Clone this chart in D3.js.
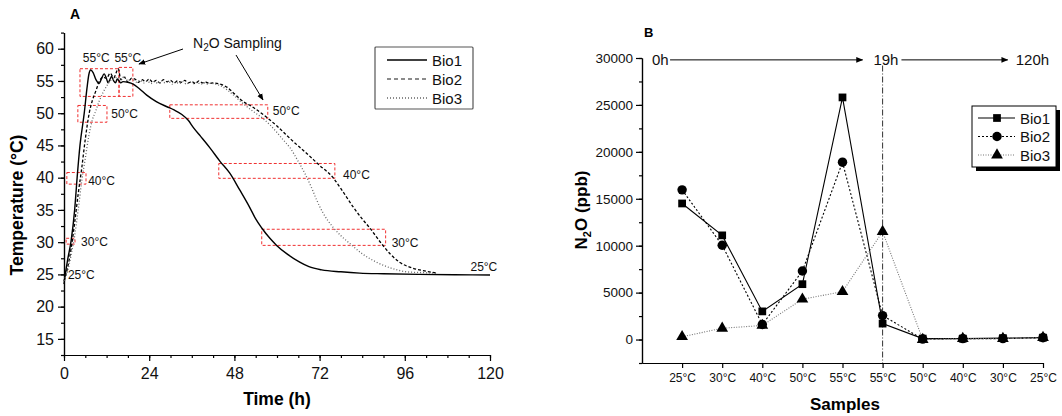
<!DOCTYPE html>
<html>
<head>
<meta charset="utf-8">
<script src="https://cdn.jsdelivr.net/npm/d3@7"></script>
<style>
  body { margin: 0; background: #fff; }
  svg text { font-family: "Liberation Sans", Arial, sans-serif; }
</style>
</head>
<body>
<svg id="svgcanvas" width="1062" height="416"></svg>
<script>
// ---------------------------------------------------------------------------
//  panel A data: temperature (°C) against time (h)
// ---------------------------------------------------------------------------
var bio1Time = [0, 0.5, 1, 2, 3, 3.7, 4.5, 5.7, 6.5, 7, 7.5, 8.2, 9, 9.9, 10.6, 11.3, 12, 12.4,
  13, 13.4, 14, 14.5, 15, 15.5, 16, 16.6, 18, 19.5, 21, 23.3, 26, 29, 31, 33.2, 35, 36.4,
  38.5, 41, 44, 46.7, 49.5, 52.3, 54, 55.7, 58, 59.9, 63, 66.4, 69, 72.6, 78, 83.3, 90,
  100, 110, 120];
var bio1Temp = [23.5, 25.5, 27.2, 30.2, 35, 40, 45, 50, 54, 56, 56.7, 56.3, 55.2, 54.6, 55.4,
  56.1, 55.3, 54.7, 55.3, 55.7, 55.0, 54.7, 55.3, 55.0, 54.7, 54.9, 54.8, 54.5, 53.9, 52.8,
  51.8, 51.0, 50.5, 49.8, 48.9, 47.8, 46.4, 44.7, 42.5, 40.7, 38.1, 35.4, 33.6, 32.2, 30.6,
  29.5, 28.1, 26.9, 26.2, 25.7, 25.4, 25.2, 25.1, 25.0, 24.95, 24.9];

var bio2Time = [0, 1, 2, 3, 4, 5, 6, 7.1, 8, 9, 10, 11, 12, 13, 14, 15.3, 16, 17, 18, 19,
  20, 21, 22, 23, 24, 25, 26, 27, 28, 29, 30, 31, 32, 33, 34, 35, 36, 37, 38, 39, 40, 41, 42,
  44, 46, 48, 50, 53, 57, 60, 64, 68.3, 72, 75.8, 78, 81.4, 84, 86, 89.4, 92, 94.5, 98, 102, 105];
var bio2Temp = [24, 26, 29, 33, 37.5, 41.5, 46, 50, 52, 53.5, 55, 55.6, 55.4, 56.2, 55.5,
  56.9, 55.2, 55.6, 54.8, 55.4, 55.3, 54.8, 55.2, 54.9, 55.3, 54.8, 55.1, 54.7, 55.2, 54.9,
  55.1, 54.7, 55.0, 54.8, 55.1, 54.7, 54.9, 54.6, 55.0, 54.7, 54.8, 54.6, 54.7,
  54.5, 54.0, 53.0, 52.0, 51.0, 49.4, 48.0, 45.9, 43.8, 41.9, 40.0, 38.3, 35.5, 33.6, 32.3,
  29.8, 28.1, 26.9, 26.0, 25.5, 25.2];

var bio3Time = [0, 1, 2, 3, 4, 5, 6, 7, 8, 8.7, 10, 11, 12, 13, 14, 15, 16, 17, 18, 19,
  20.5, 21.5, 22.5, 23.5, 24.5, 25.5, 26.5, 27.5, 28.5, 29.5, 30.5, 31.5, 32.5, 33.5, 34.5,
  35.5, 36.5, 37.5, 38.5, 39.5, 40.5, 41.5, 42, 44, 46, 48, 50, 52, 54, 56, 58, 60, 62, 63.6,
  66, 68, 70, 71.2, 73, 75.8, 78, 80.5, 84, 88, 92, 96.5, 100, 105];
var bio3Temp = [24, 25.5, 28, 31, 35, 39.5, 43, 46.5, 49, 50, 52, 53.2, 54.2, 55, 55.3,
  55.6, 55.2, 55.7, 55.0, 55.4, 54.8, 55.1, 54.7, 55.0, 54.6, 54.9, 54.6, 55.0, 54.7, 54.9,
  54.5, 54.8, 54.6, 54.9, 54.5, 54.8, 54.6, 54.8, 54.5, 54.7, 54.5, 54.7, 54.6,
  54.3, 53.6, 52.7, 51.7, 50.8, 50.0, 49.2, 48.2, 47.0, 45.7, 44.7, 42.5, 40.5, 38.1, 36.5,
  34.5, 32.3, 31.0, 29.8, 28.2, 26.9, 26.0, 25.4, 25.3, 25.2];

// sampling windows (time range, temperature range) and their labels
var windowTimes = [[4.5, 15.5], [15.5, 19.4], [3.9, 12.1], [0.8, 6.2], [29.8, 57.4],
  [43.6, 76.3], [55.7, 90.6], [0.6, 3.1]];
var windowTemps = [[52.6, 56.9], [52.6, 57.1], [48.6, 51.2], [39.0, 40.8], [49.2, 51.3],
  [39.9, 42.2], [29.5, 32.0], [29.7, 30.6]];
var windowLabels = ["55°C", "55°C", "50°C", "40°C", "50°C", "40°C", "30°C", "30°C", "25°C", "25°C"];
var labelTimes = [5.3, 14.2, 13.3, 6.8, 58.8, 78.6, 92.3, 4.8, 1.1, 114.5];
var labelTemps = [58.5, 58.5, 49.9, 39.5, 50.3, 40.4, 29.8, 30.0, 24.9, 26.2];

var xTicksA = [0, 24, 48, 72, 96, 120];
var yTicksA = [15, 20, 25, 30, 35, 40, 45, 50, 55, 60];

// ---------------------------------------------------------------------------
//  panel B data: N2O (ppb) per sample
// ---------------------------------------------------------------------------
var samples = ["25°C", "30°C", "40°C", "50°C", "55°C", "55°C", "50°C", "40°C", "30°C", "25°C"];
var bio1N2O = [14500, 11100, 3000, 5900, 25800, 1700, 100, 100, 150, 200];
var bio2N2O = [15950, 10050, 1600, 7300, 18900, 2550, 50, 100, 100, 200];
var bio3N2O = [300, 1200, 1500, 4300, 5100, 11500, 0, 100, 100, 200];
var yTicksB = [0, 5000, 10000, 15000, 20000, 25000, 30000];

// ---------------------------------------------------------------------------
//  scales
// ---------------------------------------------------------------------------
var xA = d3.scaleLinear().domain([0, 120]).range([64, 490]);
var yA = d3.scaleLinear().domain([12.5, 62.5]).range([355, 32.6]);
var xB = d3.scaleLinear().domain([0, 10]).range([642, 1043]);
var yB = d3.scaleLinear().domain([-2500, 30000]).range([363, 58]);

var svg = d3.select("#svgcanvas");

svg.append("defs").append("marker")
  .attr("id", "arrow")
  .attr("viewBox", "0 0 10 10")
  .attr("refX", 9).attr("refY", 5)
  .attr("markerWidth", 7).attr("markerHeight", 7)
  .attr("markerUnits", "userSpaceOnUse")
  .attr("orient", "auto")
  .append("path")
  .attr("d", "M0,1 L10,5 L0,9 Z")
  .attr("fill", "#000");

function styleAxis(g, size) {
  g.selectAll("path, line").attr("stroke", "#000").attr("stroke-width", 1.2);
  g.selectAll("text").attr("font-size", size).attr("fill", "#111");
}

function range(a, b, step) {
  var out = [];
  for (var v = a; v <= b + 1e-9; v += step) { out.push(v); }
  return out;
}

// ---------------------------------------------------------------------------
//  panel A
// ---------------------------------------------------------------------------
var gA = svg.append("g").attr("id", "panelA");

// minor ticks
gA.append("g").attr("transform", "translate(64,0)")
  .call(d3.axisLeft(yA).tickValues(range(12.5, 62.5, 2.5)).tickSize(3).tickSizeOuter(0).tickFormat(""))
  .call(styleAxis, 16);
gA.append("g").attr("transform", "translate(0,355)")
  .call(d3.axisBottom(xA).tickValues(range(0, 120, 6)).tickSize(3).tickSizeOuter(0).tickFormat(""))
  .call(styleAxis, 16);

gA.append("g").attr("transform", "translate(64,0)")
  .call(d3.axisLeft(yA).tickValues(yTicksA).tickSize(6).tickPadding(4).tickSizeOuter(0))
  .call(styleAxis, 16);
gA.append("g").attr("transform", "translate(0,355)")
  .call(d3.axisBottom(xA).tickValues(xTicksA).tickSize(6).tickPadding(7).tickSizeOuter(0))
  .call(styleAxis, 16);

// sampling windows
windowTimes.forEach(function(t, i) {
  gA.append("rect")
    .attr("x", xA(t[0]))
    .attr("y", yA(windowTemps[i][1]))
    .attr("width", xA(t[1]) - xA(t[0]))
    .attr("height", yA(windowTemps[i][0]) - yA(windowTemps[i][1]))
    .attr("fill", "none")
    .attr("stroke", "#f03030")
    .attr("stroke-width", 1)
    .attr("stroke-dasharray", "3,2");
});

var lineA = d3.line()
  .x(function(d) { return xA(d[0]); })
  .y(function(d) { return yA(d[1]); })
  .curve(d3.curveMonotoneX);

var seriesA = [
  { time: bio1Time, temp: bio1Temp, stroke: "#000", width: 1.4, dash: null },
  { time: bio2Time, temp: bio2Temp, stroke: "#000", width: 1.3, dash: "3,2" },
  { time: bio3Time, temp: bio3Temp, stroke: "#666", width: 1.3, dash: "1,2" }
];
seriesA.forEach(function(s) {
  gA.append("path")
    .datum(d3.zip(s.time, s.temp))
    .attr("d", lineA)
    .attr("fill", "none")
    .attr("stroke", s.stroke)
    .attr("stroke-width", s.width)
    .attr("stroke-dasharray", s.dash);
});

// window labels
windowLabels.forEach(function(lab, i) {
  gA.append("text")
    .attr("x", xA(labelTimes[i]))
    .attr("y", yA(labelTemps[i]) + 4)
    .attr("font-size", 12)
    .attr("fill", "#111")
    .text(lab);
});

// N2O Sampling callout
var callout = gA.append("text").attr("x", 193).attr("y", 48).attr("font-size", 14).attr("fill", "#111");
callout.append("tspan").text("N");
callout.append("tspan").attr("font-size", 10).attr("dy", 3).text("2");
callout.append("tspan").attr("dy", -3).text("O Sampling");
gA.append("line").attr("x1", 183).attr("y1", 49).attr("x2", 139).attr("y2", 64)
  .attr("stroke", "#000").attr("stroke-width", 1).attr("marker-end", "url(#arrow)");
gA.append("line").attr("x1", 236).attr("y1", 55).attr("x2", 263).attr("y2", 100)
  .attr("stroke", "#000").attr("stroke-width", 1).attr("marker-end", "url(#arrow)");

// titles
gA.append("text").attr("x", 70).attr("y", 19).attr("font-size", 14).attr("font-weight", "bold").text("A");
gA.append("text").attr("x", 277).attr("y", 405).attr("text-anchor", "middle")
  .attr("font-size", 17.5).attr("font-weight", "bold").text("Time (h)");
gA.append("text").attr("transform", "translate(23,205) rotate(-90)").attr("text-anchor", "middle")
  .attr("font-size", 17.5).attr("font-weight", "bold").text("Temperature (°C)");

// legend A
var legA = gA.append("g").attr("transform", "translate(375,47)");
legA.append("rect").attr("width", 98).attr("height", 62).attr("rx", 1)
  .attr("fill", "#fff").attr("stroke", "#555").attr("stroke-width", 1.2);
["Bio1", "Bio2", "Bio3"].forEach(function(name, i) {
  var s = seriesA[i];
  legA.append("line").attr("x1", 12).attr("x2", 52).attr("y1", 13 + i * 19).attr("y2", 13 + i * 19)
    .attr("stroke", i === 0 ? "#000" : "#666").attr("stroke-width", 1.3)
    .attr("stroke-dasharray", i === 1 ? "4,3" : s.dash);
  legA.append("text").attr("x", 57).attr("y", 19 + i * 19).attr("font-size", 15).attr("fill", "#111").text(name);
});

// ---------------------------------------------------------------------------
//  panel B
// ---------------------------------------------------------------------------
var gB = svg.append("g").attr("id", "panelB");

gB.append("g").attr("transform", "translate(642,0)")
  .call(d3.axisLeft(yB).tickValues(range(-2500, 30000, 2500)).tickSize(3).tickSizeOuter(0).tickFormat(""))
  .call(styleAxis, 13.5);
gB.append("g").attr("transform", "translate(642,0)")
  .call(d3.axisLeft(yB).tickValues(yTicksB).tickSize(6).tickPadding(3).tickSizeOuter(0).tickFormat(d3.format("d")))
  .call(styleAxis, 13.5);
gB.append("g").attr("transform", "translate(0,363)")
  .call(d3.axisBottom(xB).tickValues(d3.range(1, 11)).tickSize(5).tickPadding(5).tickSizeOuter(0)
    .tickFormat(function(d) { return samples[d - 1]; }))
  .call(styleAxis, 12);

// time line across the top
gB.append("text").attr("x", xB(0.25)).attr("y", yB(29800) + 5).attr("font-size", 15).attr("fill", "#111").text("0h");
gB.append("line").attr("x1", xB(0.7)).attr("x2", xB(5.5)).attr("y1", yB(29800)).attr("y2", yB(29800))
  .attr("stroke", "#000").attr("stroke-width", 1).attr("marker-end", "url(#arrow)");
gB.append("text").attr("x", xB(5.77)).attr("y", yB(29800) + 5).attr("font-size", 15).attr("fill", "#111").text("19h");
gB.append("line").attr("x1", xB(6.47)).attr("x2", xB(9.12)).attr("y1", yB(29800)).attr("y2", yB(29800))
  .attr("stroke", "#000").attr("stroke-width", 1).attr("marker-end", "url(#arrow)");
gB.append("text").attr("x", xB(9.32)).attr("y", yB(29800) + 5).attr("font-size", 15).attr("fill", "#111").text("120h");
gB.append("line").attr("x1", xB(6)).attr("x2", xB(6)).attr("y1", yB(29200)).attr("y2", yB(-2500))
  .attr("stroke", "#333").attr("stroke-width", 1).attr("stroke-dasharray", "6,2,1,2");

var lineB = d3.line()
  .x(function(d, i) { return xB(i + 1); })
  .y(function(d) { return yB(d); });

var seriesB = [
  { vals: bio1N2O, stroke: "#000", dash: null, shape: d3.symbolSquare, size: 60 },
  { vals: bio2N2O, stroke: "#000", dash: "2,2", shape: d3.symbolCircle, size: 70 },
  { vals: bio3N2O, stroke: "#777", dash: "1,1.5", shape: d3.symbolTriangle, size: 60 }
];
seriesB.forEach(function(s) {
  gB.append("path")
    .datum(s.vals)
    .attr("d", lineB)
    .attr("fill", "none")
    .attr("stroke", s.stroke)
    .attr("stroke-width", 1.1)
    .attr("stroke-dasharray", s.dash);
});
seriesB.forEach(function(s) {
  gB.selectAll(null)
    .data(s.vals)
    .enter()
    .append("path")
    .attr("d", d3.symbol().type(s.shape).size(s.size))
    .attr("transform", function(d, i) { return "translate(" + xB(i + 1) + "," + yB(d) + ")"; })
    .attr("fill", "#000");
});

// titles
gB.append("text").attr("x", 644).attr("y", 37).attr("font-size", 13).attr("font-weight", "bold").text("B");
gB.append("text").attr("x", 845).attr("y", 410).attr("text-anchor", "middle")
  .attr("font-size", 17).attr("font-weight", "bold").text("Samples");
var yTitleB = gB.append("text").attr("transform", "translate(587,210) rotate(-90)").attr("text-anchor", "middle")
  .attr("font-size", 17).attr("font-weight", "bold");
yTitleB.append("tspan").text("N");
yTitleB.append("tspan").attr("font-size", 11).attr("dy", 4).text("2");
yTitleB.append("tspan").attr("dy", -4).text("O (ppb)");

// legend B with drop shadow
var legB = gB.append("g").attr("transform", "translate(972,106)");
legB.append("rect").attr("x", 4).attr("y", 4).attr("width", 84).attr("height", 61).attr("fill", "#000");
legB.append("rect").attr("width", 84).attr("height", 61).attr("fill", "#fff").attr("stroke", "#000").attr("stroke-width", 1);
["Bio1", "Bio2", "Bio3"].forEach(function(name, i) {
  var s = seriesB[i];
  var yy = 12 + i * 18.5;
  legB.append("line").attr("x1", 6).attr("x2", 43).attr("y1", yy).attr("y2", yy)
    .attr("stroke", s.stroke).attr("stroke-width", 1.1).attr("stroke-dasharray", s.dash);
  legB.append("path").attr("d", d3.symbol().type(s.shape).size(s.size))
    .attr("transform", "translate(25," + yy + ")").attr("fill", "#000");
  legB.append("text").attr("x", 48).attr("y", yy + 5.5).attr("font-size", 15).attr("fill", "#111").text(name);
});
</script>
</body>
</html>
